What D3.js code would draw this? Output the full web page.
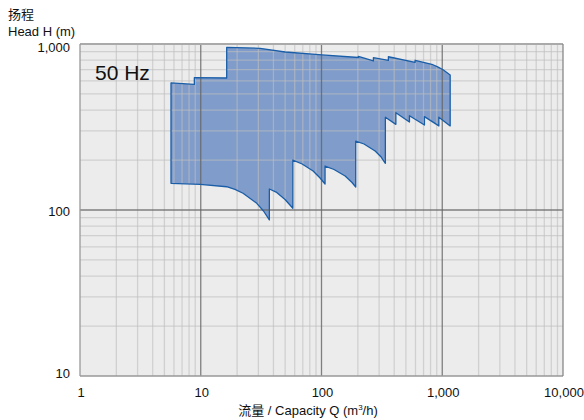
<!DOCTYPE html>
<html>
<head>
<meta charset="utf-8">
<script src="https://cdn.jsdelivr.net/npm/d3@7"></script>
<style>
  body { margin: 0; background: #fff; }
  text { font-family: "Liberation Sans", Arial, "Noto Sans CJK SC", sans-serif; fill: #111; }
</style>
</head>
<body>
<svg id="chart" width="584" height="420"></svg>
<script>
// upper boundary of the operating range, left to right
const topQ = [5.67, 8.85, 8.85, 16.4, 16.4, 31.0, 49.9, 101, 202, 202, 269, 269, 358, 358, 596, 596, 820, 925, 1023, 1163];
const topH = [584, 571, 627, 624, 955, 942, 895, 859, 829, 841, 790, 827, 798, 838, 776, 798, 755, 726, 697, 650];

// lower boundary, left to right
const bottomQ = [5.67, 9.87, 16.4, 19.2, 22.4, 29.1, 33.1, 37.0,
  37.0, 42.1, 49.9, 57.9,
  57.9, 69.1, 85.2, 97.3, 107,
  107, 127, 157, 179, 192,
  192, 225, 278, 312, 338,
  338, 413, 413, 535, 535, 712, 712, 937, 937, 1163];
const bottomH = [144.8, 142.8, 138.1, 133, 126.1, 109.7, 98.6, 87.1,
  133.8, 128.3, 115.7, 102.4,
  200, 189.3, 171.7, 155.9, 143.4,
  184, 175.4, 160.3, 146.4, 137.6,
  260, 249.8, 226.7, 208.5, 191,
  361.8, 328, 385.6, 339, 370, 325, 365, 321, 362, 321];

const xTicks = [1, 10, 100, 1000, 10000];
const yTicks = [10, 100, 1000];

const svg = d3.select('#chart');
const pL = 80, pR = 563, pT = 44, pB = 376;

const xScale = d3.scaleLog().domain([1, 10000]).range([pL, pR]);
const yScale = d3.scaleLog().domain([10, 1000]).range([pB, pT]);

// background
svg.append('rect')
  .attr('x', pL).attr('y', pT)
  .attr('width', pR - pL).attr('height', pB - pT)
  .attr('fill', '#ececec');

// outline points: top edge then bottom edge reversed
const pts = topQ.map((q, i) => [q, topH[i]])
  .concat(bottomQ.map((q, i) => [q, bottomH[i]]).reverse());

const line = d3.line()
  .x(d => xScale(d[0]))
  .y(d => yScale(d[1]));

svg.append('path')
  .attr('d', line(pts) + 'Z')
  .attr('fill', '#809cca');

// minor grid
const minorX = [];
for (let d = 1; d < 10000; d *= 10) for (let k = 2; k <= 9; k++) minorX.push(d * k);
const minorY = [];
for (let d = 10; d < 1000; d *= 10) for (let k = 2; k <= 9; k++) minorY.push(d * k);

const grid = svg.append('g');
grid.selectAll('.mx').data(minorX).enter().append('line')
  .attr('x1', d => xScale(d)).attr('x2', d => xScale(d))
  .attr('y1', pT).attr('y2', pB)
  .attr('stroke', 'rgba(190,190,190,0.6)').attr('stroke-width', 1.3);
grid.selectAll('.my').data(minorY).enter().append('line')
  .attr('y1', d => yScale(d)).attr('y2', d => yScale(d))
  .attr('x1', pL).attr('x2', pR)
  .attr('stroke', 'rgba(190,190,190,0.6)').attr('stroke-width', 1.3);

// major grid
grid.selectAll('.Mx').data(xTicks.slice(1, -1)).enter().append('line')
  .attr('x1', d => xScale(d)).attr('x2', d => xScale(d))
  .attr('y1', pT).attr('y2', pB)
  .attr('stroke', 'rgba(100,100,100,0.8)').attr('stroke-width', 1.3);
grid.selectAll('.My').data(yTicks.slice(1, -1)).enter().append('line')
  .attr('y1', d => yScale(d)).attr('y2', d => yScale(d))
  .attr('x1', pL).attr('x2', pR)
  .attr('stroke', 'rgba(100,100,100,0.8)').attr('stroke-width', 1.3);

// frame
svg.append('line').attr('x1', pL).attr('x2', pR).attr('y1', pT).attr('y2', pT)
  .attr('stroke', '#aaa').attr('stroke-width', 2);
svg.append('line').attr('x1', pL).attr('x2', pR).attr('y1', pB).attr('y2', pB)
  .attr('stroke', '#999').attr('stroke-width', 1.5);
svg.append('line').attr('x1', pL).attr('x2', pL).attr('y1', pT).attr('y2', pB)
  .attr('stroke', '#999').attr('stroke-width', 1.3);
svg.append('line').attr('x1', pR).attr('x2', pR).attr('y1', pT).attr('y2', pB)
  .attr('stroke', '#888').attr('stroke-width', 1.3);

// outline
svg.append('path')
  .attr('d', line(pts) + 'Z')
  .attr('fill', 'none')
  .attr('stroke', '#1a5ea8')
  .attr('stroke-width', 1.3)
  .attr('stroke-linejoin', 'round');

// axes labels
const fmt = d3.format(',');
svg.selectAll('.xt').data(xTicks).enter().append('text')
  .attr('x', d => xScale(d) + 1)
  .attr('y', 397)
  .attr('text-anchor', 'middle')
  .attr('font-size', 13)
  .text(d => fmt(d));

// end labels are nudged inside the frame
svg.selectAll('.yt').data(yTicks).enter().append('text')
  .attr('x', 70)
  .attr('y', d => Math.min(Math.max(yScale(d) + 1, pT + 3), pB - 3) + 4.5)
  .attr('text-anchor', 'end')
  .attr('font-size', 13)
  .text(d => fmt(d));

svg.append('text').attr('x', 8).attr('y', 19).attr('font-size', 13).text('扬程');
svg.append('text').attr('x', 8).attr('y', 36).attr('font-size', 13).text('Head H (m)');

const xt = svg.append('text').attr('x', 308).attr('y', 415)
  .attr('text-anchor', 'middle').attr('font-size', 13);
xt.append('tspan').text('流量 / Capacity Q (m');
xt.append('tspan').attr('font-size', 8).attr('dy', -5).text('3');
xt.append('tspan').attr('dy', 5).text('/h)');

svg.append('text').attr('x', 95).attr('y', 80).attr('font-size', 21).attr('fill', '#000').text('50 Hz');
</script>
</body>
</html>
